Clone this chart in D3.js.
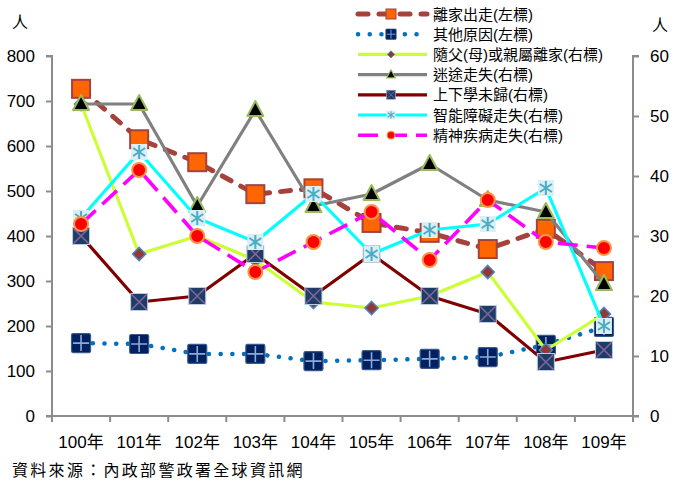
<!DOCTYPE html>
<html><head><meta charset="utf-8">
<script src="https://cdn.jsdelivr.net/npm/d3@7"></script>
<style>
html,body{margin:0;padding:0;background:#fff;}
svg{display:block;font-family:"Liberation Sans","Noto Sans CJK TC",sans-serif;}
</style></head><body>
<svg id="c" width="677" height="481"></svg>
<script>
const years = ["100年","101年","102年","103年","104年","105年","106年","107年","108年","109年"];
const runaway = [727,615,564,493,506,429,407,371,416,322];      // 離家出走 (left)
const otherCause = [162,160,138,138,122,124,127,131,158,198];   // 其他原因 (left)
const withParent = [52,27,30,26,19,18,20,24,11,17];             // 隨父(母)或親屬離家 (right)
const lost = [52,52,35,51,35,37,42,36,34,22];                   // 迷途走失 (right)
const schoolMissing = [30,19,20,27,20,27,20,17,9,11];           // 上下學未歸 (right)
const intellectual = [33,44,33,29,37,27,31,32,38,15];           // 智能障礙走失 (right)
const mental = [32,41,30,24,29,34,26,36,29,28];                 // 精神疾病走失 (right)
const leftTicks = [0,100,200,300,400,500,600,700,800];
const rightTicks = [0,10,20,30,40,50,60];
const seriesNames = ["離家出走(左標)","其他原因(左標)","隨父(母)或親屬離家(右標)","迷途走失(右標)","上下學未歸(右標)","智能障礙走失(右標)","精神疾病走失(右標)"];
const sourceText = "資料來源：內政部警政署全球資訊網";

const svg = d3.select("#c");
const L = 52, R = 633, T = 56, B = 416;
const x = d3.scaleBand().domain(years).range([L, R]).paddingInner(0).paddingOuter(0);
const cx = d => x(d) + x.bandwidth()/2;
const yL = d3.scaleLinear().domain([0,800]).range([B,T]);
const yR = d3.scaleLinear().domain([0,60]).range([B,T]);
const axisColor = "#8c8c8c";

// axes
const gl = svg.append("g").attr("transform",`translate(${L},0)`)
  .call(d3.axisLeft(yL).tickValues(leftTicks).tickSize(6).tickPadding(11));
const gr = svg.append("g").attr("transform",`translate(${R},0)`)
  .call(d3.axisRight(yR).tickValues(rightTicks).tickSize(6).tickPadding(11));
const gb = svg.append("g").attr("transform",`translate(0,${B})`)
  .call(d3.axisBottom(x).tickSize(0).tickPadding(20));
[gl,gr,gb].forEach(g=>{
  g.select(".domain").attr("stroke",axisColor).attr("stroke-width",2);
  g.selectAll(".tick line").attr("stroke",axisColor).attr("stroke-width",2);
  g.selectAll("text").attr("fill","#000").style("font-size","17px")
   .style("font-family",'"Liberation Sans","Noto Sans CJK TC",sans-serif');
});
gl.select(".domain").attr("d",`M-6,${T}H0V${B}H-6`);
gr.select(".domain").attr("d",`M6,${T}H0V${B}H6`);
gb.select(".domain").attr("d",`M${L},0H${R}`);
// category boundary ticks
const edges = years.map(d=>x(d)).concat([R]);
svg.append("g").selectAll("line").data(edges).join("line")
  .attr("x1",d=>d).attr("x2",d=>d).attr("y1",B).attr("y2",B+6)
  .attr("stroke",axisColor).attr("stroke-width",2);

// unit labels
svg.append("text").attr("x",20).attr("y",28).attr("text-anchor","middle")
  .style("font-family","Noto Sans CJK TC").style("font-size","16px").text("人");
svg.append("text").attr("x",660).attr("y",31).attr("text-anchor","middle")
  .style("font-family","Noto Sans CJK TC").style("font-size","16px").text("人");

// marker drawers
function mkSquareOrange(g){ g.append("rect").attr("x",-9).attr("y",-9).attr("width",18).attr("height",18)
  .attr("fill","#ff6600").attr("stroke","#a6423c").attr("stroke-width",2); }
function mkPlus(g){ g.append("rect").attr("x",-9.5).attr("y",-9.5).attr("width",19).attr("height",19).attr("rx",1.5)
  .attr("fill","#002060").attr("stroke","#3a5a8c").attr("stroke-width",1.2);
  g.append("path").attr("d","M-8,0H8M0,-8V8").attr("stroke","#8eaadb").attr("stroke-width",1.6); }
function mkDiamond(g){ g.append("path").attr("d","M0,-6.5L6.5,0L0,6.5L-6.5,0Z")
  .attr("fill","#953735").attr("stroke","#4f81bd").attr("stroke-width",1.6); }
function mkTriangle(g){ g.append("path").attr("d","M0,-9L8,6L-8,6Z")
  .attr("fill","#000").attr("stroke","#9bbb59").attr("stroke-width",2).attr("stroke-linejoin","round"); }
function mkXSquare(g){ g.append("rect").attr("x",-8.5).attr("y",-8.5).attr("width",17).attr("height",17)
  .attr("fill","#1f3c64").attr("stroke","#b9cde5").attr("stroke-width",1);
  g.append("path").attr("d","M-7.5,-7.5L7.5,7.5M7.5,-7.5L-7.5,7.5").attr("stroke","#8064a2").attr("stroke-width",1.6); }
function mkAsterisk(g){ g.append("rect").attr("x",-8).attr("y",-8).attr("width",16).attr("height",16)
  .attr("fill","#daeef3").attr("stroke","none");
  g.append("path").attr("d","M0,-7V7M-6,-4L6,4M6,-4L-6,4").attr("stroke","#4bacc6").attr("stroke-width",2); }
function mkCircle(g){ g.append("circle").attr("r",7).attr("fill","#ff0000").attr("stroke","#f79646").attr("stroke-width",2); }

const series = [
  {name:seriesNames[0], data:runaway, y:yL, color:"#a6423c", width:5, dash:"10,11", cap:"round", mk:mkSquareOrange},
  {name:seriesNames[1], data:otherCause, y:yL, color:"#0070c0", width:4.5, dash:"0.1,11.6", cap:"round", mk:mkPlus},
  {name:seriesNames[2], data:withParent, y:yR, color:"#ccff33", width:3.2, dash:null, cap:"butt", mk:mkDiamond},
  {name:seriesNames[3], data:lost, y:yR, color:"#808080", width:3.2, dash:null, cap:"butt", mk:mkTriangle},
  {name:seriesNames[4], data:schoolMissing, y:yR, color:"#800000", width:3.2, dash:null, cap:"butt", mk:mkXSquare},
  {name:seriesNames[5], data:intellectual, y:yR, color:"#00ffff", width:3.2, dash:null, cap:"butt", mk:mkAsterisk},
  {name:seriesNames[6], data:mental, y:yR, color:"#ff00ff", width:3.6, dash:"20,9", cap:"butt", mk:mkCircle}
];

const plot = svg.append("g");
series.forEach(s=>{
  const pts = years.map((yr,i)=>[cx(yr), s.y(s.data[i])]);
  plot.append("path").attr("d", d3.line()(pts)).attr("fill","none")
    .attr("stroke",s.color).attr("stroke-width",s.width)
    .attr("stroke-dasharray",s.dash).attr("stroke-linecap",s.cap).attr("stroke-linejoin","round");
  pts.forEach(p=>{ const g = plot.append("g").attr("transform",`translate(${p[0]},${p[1]})`); s.mk(g); });
});

// legend
const lg = svg.append("g");
series.forEach((s,i)=>{
  const yy = 14 + i*20.2;
  lg.append("line").attr("x1",358).attr("x2",427).attr("y1",yy).attr("y2",yy)
    .attr("stroke",s.color).attr("stroke-width",s.width)
    .attr("stroke-dasharray",s.dash).attr("stroke-linecap",s.cap);
  const g = lg.append("g").attr("transform",`translate(391,${yy}) scale(0.55)`); s.mk(g);
  lg.append("text").attr("x",433).attr("y",yy+5.5)
    .style("font-family",'"Liberation Sans","Noto Sans CJK TC",sans-serif').style("font-size","15px").text(s.name);
});

// source
svg.append("text").attr("x",12).attr("y",476)
  .style("font-family","Noto Sans CJK TC").style("font-size","16px").style("letter-spacing","2.3px")
  .text(sourceText);
</script>
</body></html>
